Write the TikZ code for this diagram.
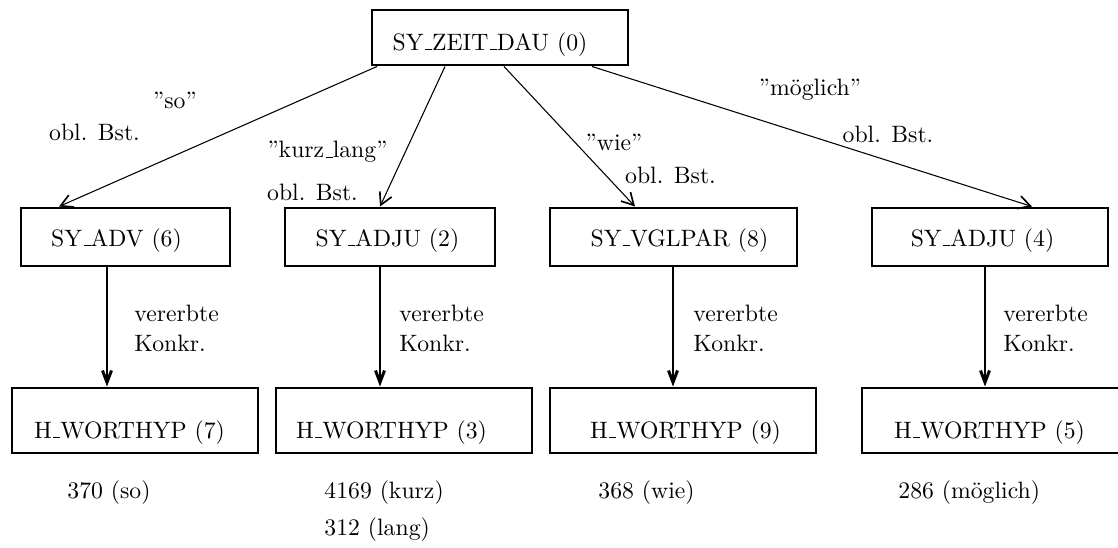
\documentclass[tikz,border=0pt]{standalone}
\usetikzlibrary{arrows.meta}
\newdimen\unitpx
\unitpx=0.4219pt
% classic low-rule underscore
\newcommand\usc{\leavevmode\kern.06em\vbox{\hrule width.3em height.5pt}}
% horizontal nudges of a box text: \padL pushes right, \padR pushes left
\newcommand\padL[1]{\hspace*{#1\unitpx}}
\newcommand\padR[1]{\hspace*{#1\unitpx}}
\begin{document}
\begin{tikzpicture}[x=0.4219pt,y=-0.4219pt,
  box/.style={draw,line width=1.25pt,inner sep=0pt,minimum height=#1\unitpx},
  rootbox/.style={box=55,text height=10.6pt,text depth=0pt},
  midbox/.style={box=58,text height=7.6pt,text depth=0pt},
  lowbox/.style={box=65,text height=14.8pt,text depth=0pt},
  txt/.style={inner sep=0pt},
  diag/.style={line width=0.45pt,-{Straight Barb[length=5pt,width=5.5pt,line width=0.7pt]}},
  vert/.style={line width=1.25pt,-{Straight Barb[length=5pt,width=3.8pt]}},
  note/.style={inner sep=0pt,align=left,anchor=west,font=\fontsize{10}{12.7}\selectfont}]
\useasboundingbox (0,0) rectangle (1118,548);

% root
\node[rootbox,minimum width=256\unitpx] (top) at (500,37.5) {SY\usc ZEIT\usc DAU (0)\padR{20}};

% middle row
\node[midbox,minimum width=209\unitpx] (adv)   at (125.5,237) {SY\usc ADV (6)\padR{18}};
\node[midbox,minimum width=210\unitpx] (adju2) at (390,237)   {SY\usc ADJU (2)\padR{5}};
\node[midbox,minimum width=247\unitpx] (vgl)   at (673.5,237) {\padL{12}SY\usc VGLPAR (8)};
\node[midbox,minimum width=236\unitpx] (adju4) at (990,237)   {SY\usc ADJU (4)\padR{15}};

% bottom row
\node[lowbox,minimum width=246\unitpx] (wh7) at (135,420.5) {H\usc WORTHYP (7)\padR{11}};
\node[lowbox,minimum width=256\unitpx] (wh3) at (404,420.5) {H\usc WORTHYP (3)\padR{25}};
\node[lowbox,minimum width=266\unitpx] (wh9) at (683,420.5) {\padL{5}H\usc WORTHYP (9)};
\node[lowbox,minimum width=262\unitpx] (wh5) at (993,420.5) {H\usc WORTHYP (5)\padR{7}};

% edge labels
\node[txt] (q1) at (175,100)   {”so”};
\node[txt] (b1) at (94.5,132)  {obl. Bst.};
\node[txt] (q2) at (327.5,152) {”kurz\usc lang”};
\node[txt] (b2) at (312.5,192) {obl. Bst.};
\node[txt] (q3) at (614,142)   {”wie”};
\node[txt] (b3) at (670.5,175) {obl. Bst.};
\node[txt] (q4) at (810,90)    {”möglich”};
\node[txt] (b4) at (888,134)   {obl. Bst.};

\node[note] (k1) at (134,328)  {vererbte\\Konkr.};
\node[note] (k2) at (399,328)  {vererbte\\Konkr.};
\node[note] (k3) at (693,328)  {vererbte\\Konkr.};
\node[note] (k4) at (1003,328) {vererbte\\Konkr.};

% word numbers
\node[txt,anchor=west] (n7) at (67,493)  {370 (so)};
\node[txt,anchor=west] (n3) at (324,493) {4169 (kurz)};
\node[txt,anchor=west] (n3b) at (324,530) {312 (lang)};
\node[txt,anchor=west] (n9) at (598,493) {368 (wie)};
\node[txt,anchor=west] (n5) at (898,493) {286 (möglich)};

% attachment columns
\coordinate (s1) at (377,0);  \coordinate (t1) at (59,0);
\coordinate (s2) at (445,0);  \coordinate (t2) at (380,0);
\coordinate (s3) at (504,0);  \coordinate (t3) at (635,0);
\coordinate (s4) at (592,0);  \coordinate (t4) at (1032,0);
\coordinate (v1) at (107,0);
\coordinate (v2) at (380,0);
\coordinate (v3) at (673,0);
\coordinate (v4) at (985,0);

% obligatory constituents
\draw[diag] (top.south -| s1) -- (adv.north -| t1);
\draw[diag] (top.south -| s2) -- (adju2.north -| t2);
\draw[diag] (top.south -| s3) -- (vgl.north -| t3);
\draw[diag] (top.south -| s4) -- (adju4.north -| t4);

% inherited concretisations
\draw[vert] (adv.south -| v1)   -- (wh7.north -| v1);
\draw[vert] (adju2.south -| v2) -- (wh3.north -| v2);
\draw[vert] (vgl.south -| v3)   -- (wh9.north -| v3);
\draw[vert] (adju4.south -| v4) -- (wh5.north -| v4);
\end{tikzpicture}
\end{document}
